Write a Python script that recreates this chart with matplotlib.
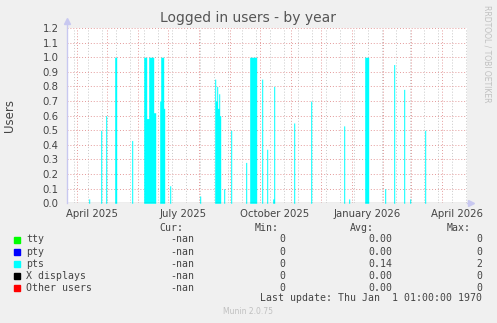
#!/usr/bin/env python
#
# Munin style "Logged in users - by year" graph
#
from datetime import datetime, timedelta
import numpy as np
import pandas as pd
import matplotlib
matplotlib.use("Agg")
from matplotlib import pyplot as plt
from matplotlib import dates as mdates

######################################################
# Data (one value per day)
######################################################
pts_dates = ['2025-04-13', '2025-04-25', '2025-04-30', '2025-05-09', '2025-05-10',
             '2025-05-26',
             '2025-06-07', '2025-06-08', '2025-06-09', '2025-06-10', '2025-06-11',
             '2025-06-12', '2025-06-13', '2025-06-14', '2025-06-15', '2025-06-16',
             '2025-06-17', '2025-06-18',
             '2025-06-23', '2025-06-24', '2025-06-25', '2025-06-26', '2025-06-27',
             '2025-07-03', '2025-08-02',
             '2025-08-17', '2025-08-18', '2025-08-19', '2025-08-20', '2025-08-21',
             '2025-08-22',
             '2025-08-26', '2025-09-02', '2025-09-17',
             '2025-09-21', '2025-09-22', '2025-09-23', '2025-09-24', '2025-09-25',
             '2025-09-26', '2025-09-27',
             '2025-10-03', '2025-10-08', '2025-10-14', '2025-10-15', '2025-11-04',
             '2025-11-21', '2025-12-24', '2025-12-29',
             '2026-01-14', '2026-01-15', '2026-01-16', '2026-01-17',
             '2026-02-03', '2026-02-12', '2026-02-22', '2026-02-28', '2026-03-15']
pts_values = [0.03, 0.50, 0.60, 1.00, 1.00,
              0.43,
              1.00, 1.00, 1.00, 0.58, 0.58,
              1.00, 1.00, 1.00, 1.00, 1.00,
              0.62, 0.62,
              0.70, 1.00, 1.00, 1.00, 0.65,
              0.12, 0.05,
              0.85, 0.70, 0.80, 0.65, 0.75,
              0.60,
              0.10, 0.50, 0.28,
              1.00, 1.00, 1.00, 1.00, 1.00,
              1.00, 1.00,
              0.85, 0.37, 0.03, 0.80, 0.55,
              0.70, 0.53, 0.03,
              1.00, 1.00, 1.00, 1.00,
              0.10, 0.95, 0.78, 0.03, 0.50]

series_names = ['tty', 'pty', 'pts', 'X displays', 'Other users']
series_colors = ['#00ff00', '#0000ff', '#00ffff', '#000000', '#ff0000']
cur_vals = ['-nan', '-nan', '-nan', '-nan', '-nan']
min_vals = ['0', '0', '0', '0', '0']
avg_vals = ['0.00', '0.00', '0.14', '0.00', '0.00']
max_vals = ['0', '0', '2', '0', '0']

month_labels = ['April 2025', 'July 2025', 'October 2025', 'January 2026', 'April 2026']
label_dates = ['2025-04-16', '2025-07-16', '2025-10-16', '2026-01-16', '2026-04-16']

######################################################
# Settings
######################################################
W, H = 497, 323
bg = '#f0f0f0'
txt = '#444444'
left, right, top, bottom = 67, 467, 28, 203.3

ref = datetime(2026, 1, 1)
x0 = ref - timedelta(days=284.7)
x1 = ref + timedelta(days=115.3)

def fx(x):
   return x / float(W)

def fy(y):
   return 1 - y / float(H)

# build the daily series
days = pd.date_range('2025-03-20', '2026-04-30', freq='D')
pts = pd.Series(0.0, index=days)
pts[pd.to_datetime(pts_dates)] = pts_values

fig = plt.figure(figsize=(W / 100.0, H / 100.0), dpi=100, facecolor=bg)
ax = fig.add_axes([fx(left), fy(bottom), fx(right - left), (bottom - top) / H])
ax.set_facecolor('white')
ax.set_xlim(x0, x1)
ax.set_ylim(0, 1.2)
for s in ax.spines.values():
   s.set_visible(False)

# grid: gray every 2 weeks, red at month starts and each 0.1
dots = (0, (1, 2))
d = datetime(2026, 1, 3)
while d > x0:
   d -= timedelta(days=14)
while d < x1:
   ax.axvline(d, color='#c8c8c8', lw=0.7, ls=dots, zorder=1)
   d += timedelta(days=14)
for m in pd.date_range('2025-04-01', '2026-04-01', freq='MS'):
   ax.axvline(m, color='#e49a9a', lw=0.7, ls=dots, zorder=1)
for v in np.arange(0.1, 1.25, 0.1):
   ax.axhline(v, color='#e49a9a', lw=0.7, ls=dots, zorder=1)

# series
ax.fill_between(pts.index, 0, pts.values, step='post', color='#00ffff', lw=0, zorder=2)
for c in ['#00ff00', '#0000ff', '#000000', '#ff0000']:
   ax.plot([x0, x1], [0, 0], color=c, lw=0.8, alpha=0.45, zorder=3)

# ticks
ax.set_yticks(np.arange(0, 1.25, 0.1))
ax.set_yticklabels(['%.1f' % v for v in np.arange(0, 1.25, 0.1)])
ax.set_xticks(pd.to_datetime(label_dates))
ax.set_xticklabels(month_labels)
ax.tick_params(axis='both', length=0, labelsize=7.3, labelcolor=txt)
ax.tick_params(axis='y', pad=6)
ax.tick_params(axis='x', pad=4)

# axis lines with arrows
axc = '#c8c8f0'
ax.plot([0, 0], [0, 1.04], color=axc, lw=1, transform=ax.transAxes, clip_on=False, zorder=4)
ax.plot([0], [1.04], marker='^', color=axc, ms=4, transform=ax.transAxes, clip_on=False)
ax.plot([1, 1.01], [0, 0], color=axc, lw=1, transform=ax.transAxes, clip_on=False)
ax.plot([1.01], [0], marker='>', color=axc, ms=4, transform=ax.transAxes, clip_on=False)

# titles
fig.text(fx(248), fy(18), 'Logged in users - by year', ha='center', va='center',
         fontsize=10, color='#555555')
fig.text(fx(10), fy(115), 'Users', ha='center', va='center', rotation=90,
         fontsize=8.5, color=txt)
fig.text(fx(487), fy(5), 'RRDTOOL / TOBI OETIKER', ha='center', va='top', rotation=270,
         fontsize=5.5, color='#c0c0c0')

# legend table
mono = 'DejaVu Sans Mono'
fs = 7.1
fig.text(fx(159), fy(228.3), 'Cur:', fontsize=fs, family=mono, color=txt, va='center')
fig.text(fx(255), fy(228.3), 'Min:', fontsize=fs, family=mono, color=txt, va='center')
fig.text(fx(350), fy(228.3), 'Avg:', fontsize=fs, family=mono, color=txt, va='center')
fig.text(fx(447), fy(228.3), 'Max:', fontsize=fs, family=mono, color=txt, va='center')
for i in range(len(series_names)):
   y = 239.5 + i * 12.1
   fig.patches.append(plt.Rectangle((fx(14), fy(y + 3)), fx(6), 6.0 / H,
                                    transform=fig.transFigure, color=series_colors[i]))
   fig.text(fx(26), fy(y), series_names[i], fontsize=fs, family=mono, color=txt, va='center')
   fig.text(fx(194), fy(y), cur_vals[i], fontsize=fs, family=mono, color=txt, va='center', ha='right')
   fig.text(fx(285), fy(y), min_vals[i], fontsize=fs, family=mono, color=txt, va='center', ha='right')
   fig.text(fx(392), fy(y), avg_vals[i], fontsize=fs, family=mono, color=txt, va='center', ha='right')
   fig.text(fx(482), fy(y), max_vals[i], fontsize=fs, family=mono, color=txt, va='center', ha='right')
fig.text(fx(482), fy(298.3), 'Last update: Thu Jan  1 01:00:00 1970', fontsize=fs,
         family=mono, color=txt, va='center', ha='right')
fig.text(fx(248), fy(311), 'Munin 2.0.75', fontsize=5.5, color='#c0c0c0',
         ha='center', va='center')

fig.savefig('out.png', dpi=100, facecolor=bg)
